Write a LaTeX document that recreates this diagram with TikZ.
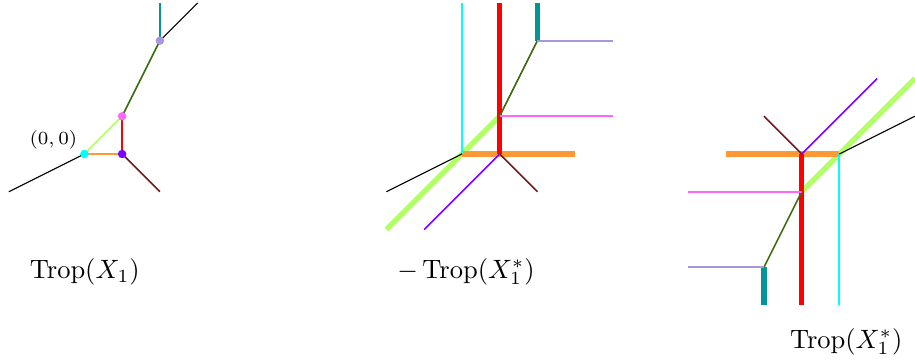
\documentclass[tikz,border=0pt]{standalone}
\newcommand\TropOp{\mathop{\mathrm{Trop}}\nolimits}
\definecolor{cCyan}{RGB}{0,255,255}
\definecolor{cViolet}{RGB}{125,0,255}
\definecolor{cMagenta}{RGB}{255,102,255}
\definecolor{cLav}{RGB}{170,150,220}
\definecolor{cLGreen}{RGB}{179,255,102}
\definecolor{cOrange}{RGB}{255,153,51}
\definecolor{cRed}{RGB}{255,0,0}
\definecolor{cBrown}{RGB}{115,25,25}
\definecolor{cOlive}{RGB}{60,110,20}
\definecolor{cTeal}{RGB}{0,150,150}
\begin{document}
\begin{tikzpicture}[x=0.5cm,y=0.5cm,
  thinl/.style={line width=0.6pt},
  blackl/.style={line width=0.45pt},
  cyanl/.style={line width=0.8pt,cCyan},
  thickl/.style={line width=2pt},
  dot/.style={circle,inner sep=0pt,minimum size=3.2pt,fill=#1,draw=none},
  lab/.style={anchor=base,inner sep=0pt}]
\useasboundingbox (-2.235,-5.510) rectangle (22.003,4.079);
% ---------- left: Trop(X_1) ----------
\coordinate (A) at (0,0);
\coordinate (B) at (1,0);
\coordinate (C) at (1,1);
\coordinate (D) at (2,3);
\coordinate (Asw) at (-2,-1);
\coordinate (Bse) at (2,-1);
\coordinate (Dn) at (2,4);
\coordinate (Dne) at (3,4);
\draw[blackl,black] (A) -- (Asw);
\draw[thinl,cOrange] (A) -- (B);
\draw[thinl,cLGreen] (A) -- (C);
\draw[thinl,cRed] (B) -- (C);
\draw[thinl,cBrown] (B) -- (Bse);
\draw[thinl,cOlive] (C) -- (D);
\draw[thinl,cTeal] (D) -- (Dn);
\draw[blackl,black] (D) -- (Dne);
\node[dot=cCyan] (dA) at (A) {};
\node[dot=cViolet] (dB) at (B) {};
\node[dot=cMagenta] (dC) at (C) {};
\node[dot=cLav] (dD) at (D) {};
\node[inner sep=0pt] (orig) at (-0.82,0.38) {\scriptsize $(0,0)$};
\node[lab] (L1) at (0.013,-3.293) {$\TropOp(X_1)$};
% ---------- middle: -Trop(X_1^*) ----------
\coordinate (M0) at (10,0);
\coordinate (M1) at (11,0);
\coordinate (M2) at (11,1);
\coordinate (M3) at (12,3);
\coordinate (Mg) at (8,-2);
\coordinate (Mo) at (13,0);
\coordinate (Mr) at (11,4);
\coordinate (Mt) at (12,4);
\coordinate (Mc) at (10,4);
\coordinate (Mk) at (8,-1);
\coordinate (Mb) at (12,-1);
\coordinate (Mv) at (9,-2);
\coordinate (Mm) at (14,1);
\coordinate (Ml) at (14,3);
\draw[thickl,cLGreen] (M2) -- (Mg);
\draw[thickl,cOrange] (M0) -- (Mo);
\draw[thickl,cRed] (M1) -- (Mr);
\draw[thickl,cTeal] (M3) -- (Mt);
\draw[cyanl] (M0) -- (Mc);
\draw[blackl,black] (M0) -- (Mk);
\draw[thinl,cBrown] (M1) -- (Mb);
\draw[thinl,cViolet] (M1) -- (Mv);
\draw[thinl,cOlive] (M2) -- (M3);
\draw[thinl,cMagenta] (M2) -- (Mm);
\draw[thinl,cLav] (M3) -- (Ml);
\node[lab] (L2) at (10.11,-3.293) {$-\TropOp(X_1^*)$};
% ---------- right: Trop(X_1^*) ----------
\coordinate (R0) at (20,0);
\coordinate (R1) at (19,0);
\coordinate (R2) at (19,-1);
\coordinate (R3) at (18,-3);
\coordinate (Rg) at (22,2);
\coordinate (Ro) at (17,0);
\coordinate (Rr) at (19,-4);
\coordinate (Rt) at (18,-4);
\coordinate (Rc) at (20,-4);
\coordinate (Rk) at (22,1);
\coordinate (Rb) at (18,1);
\coordinate (Rv) at (21,2);
\coordinate (Rm) at (16,-1);
\coordinate (Rl) at (16,-3);
\draw[thickl,cLGreen] (R2) -- (Rg);
\draw[thickl,cOrange] (R0) -- (Ro);
\draw[thickl,cRed] (R1) -- (Rr);
\draw[thickl,cTeal] (R3) -- (Rt);
\draw[cyanl] (R0) -- (Rc);
\draw[blackl,black] (R0) -- (Rk);
\draw[thinl,cBrown] (R1) -- (Rb);
\draw[thinl,cViolet] (R1) -- (Rv);
\draw[thinl,cOlive] (R2) -- (R3);
\draw[thinl,cMagenta] (R2) -- (Rm);
\draw[thinl,cLav] (R3) -- (Rl);
\node[lab] (L3) at (20.18,-5.147) {$\TropOp(X_1^*)$};
\end{tikzpicture}
\end{document}
